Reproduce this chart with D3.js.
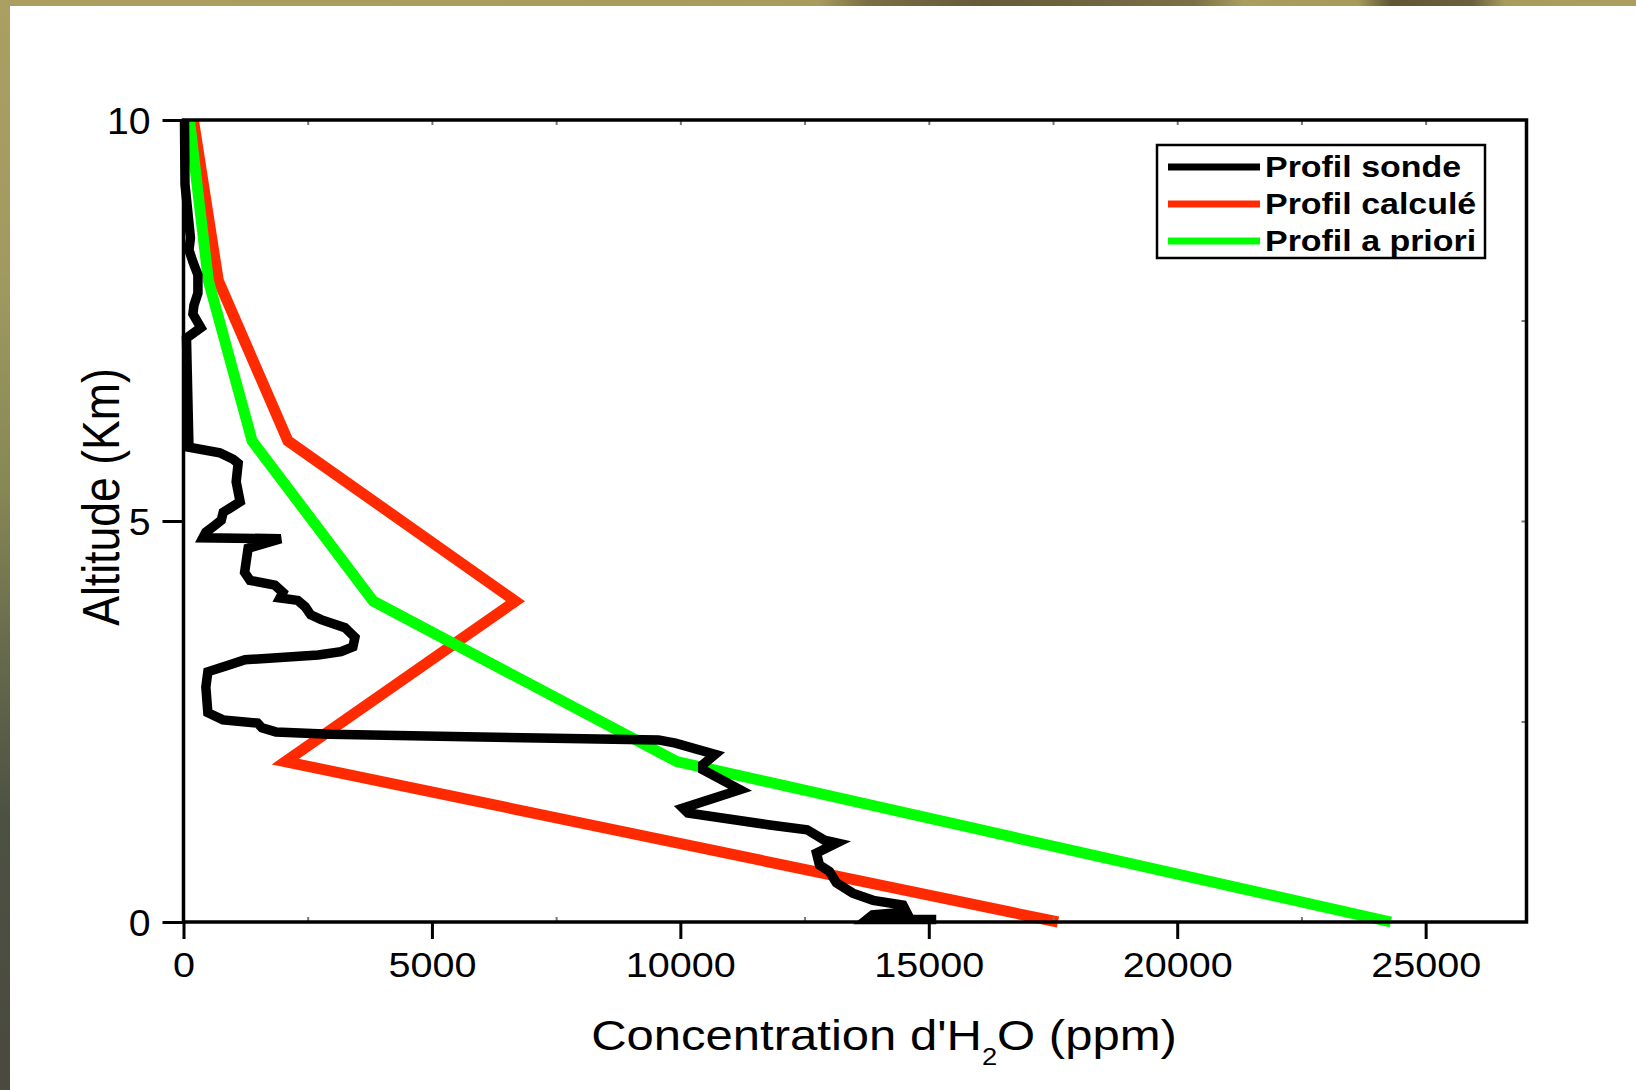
<!DOCTYPE html>
<html>
<head>
<meta charset="utf-8">
<script src="https://cdn.jsdelivr.net/npm/d3@7"></script>
<style>
  body { margin: 0; background: #fff; }
  svg { display: block; }
  text { font-family: "Liberation Sans", Arial, Helvetica, sans-serif; fill: #000; }
</style>
</head>
<body>
<script>
// ---- data ----
const levels = [0, 2, 4, 6, 8, 10]                       // km
const calcule = [17600, 2050, 6680, 2100, 700, 200]      // ppm
const apriori = [24300, 9930, 3820, 1380, 500, 120]      // ppm

const sondeAlt = [10.0, 9.2, 8.53, 8.38, 8.23, 8.07, 7.84, 7.69, 7.58, 7.41, 7.28,
  5.92, 5.85, 5.77, 5.72, 5.49, 5.24, 5.17, 5.11, 5.01, 4.95, 4.86, 4.79, 4.78,
  4.66, 4.36, 4.26, 4.2, 4.11, 4.04, 4.01, 3.93, 3.83, 3.77, 3.67, 3.55, 3.43,
  3.37, 3.33, 3.27, 3.2, 3.12, 2.93, 2.61, 2.52, 2.48, 2.42, 2.37, 2.34, 2.31,
  2.27, 2.23, 2.09, 1.96, 1.9, 1.65, 1.42, 1.36, 1.21, 1.15, 1.02, 0.985, 0.86,
  0.71, 0.63, 0.49, 0.36, 0.27, 0.21, 0.125, 0.09, 0.03, 0.03]
const sondePpm = [20, 30, 140, 110, 190, 290, 290, 210, 190, 350, 60,
  110, 730, 1000, 1100, 1060, 1140, 960, 800, 760, 640, 450, 390, 1960,
  1300, 1230, 1340, 1840, 2000, 1940, 2300, 2450, 2560, 2770, 3250, 3450, 3410,
  3170, 2710, 1240, 900, 490, 450, 490, 795, 1490, 1580, 1860, 2950, 5690,
  9560, 9900, 10700, 10450, 10450, 11200, 10050, 10150, 11800, 12550, 12900, 13150, 12740,
  12800, 13000, 13140, 13470, 13880, 14480, 14550, 13870, 13750, 15150]

const xTicks = [0, 5000, 10000, 15000, 20000, 25000]
const xMinor = [2500, 7500, 12500, 17500, 22500]
const xTopTicks = [2500, 5000, 7500, 10000, 12500, 15000, 17500, 20000, 22500, 25000]
const yTicks = [0, 5, 10]
const yRightTicks = [2.5, 5, 7.5]

const seriesNames = ['Profil sonde', 'Profil calculé', 'Profil a priori']
const seriesColors = ['#000000', '#ff2a00', '#00ff00']

// ---- frame ----
const W = 1636, H = 1090
const plot = { left: 183.5, top: 120, right: 1526.5, bottom: 922 }

const svg = d3.select('body').append('svg')
  .attr('width', W)
  .attr('height', H)

// slide background edges (olive strip top and left)
const defs = svg.append('defs')
const topGrad = defs.append('linearGradient').attr('id', 'topGrad')
  .attr('x1', 0).attr('x2', 1).attr('y1', 0).attr('y2', 0)
;[[0, '#aa9f60'], [0.5, '#a89c5c'], [0.53, '#7a6e45'], [0.6, '#655a3a'], [0.73, '#7a6f47'],
  [0.76, '#a99e5e'], [0.83, '#a69a5a'], [0.85, '#5f5636'], [0.9, '#6a603e'], [0.92, '#a89c5c'], [1, '#aa9f60']]
  .forEach(s => topGrad.append('stop').attr('offset', s[0]).attr('stop-color', s[1]))
const leftGrad = defs.append('linearGradient').attr('id', 'leftGrad')
  .attr('x1', 0).attr('x2', 0).attr('y1', 0).attr('y2', 1)
;[[0, '#ab9f63'], [0.25, '#a09a60'], [0.45, '#868755'], [0.6, '#666a4c'], [0.75, '#4d5142'], [1, '#4a4a3e']]
  .forEach(s => leftGrad.append('stop').attr('offset', s[0]).attr('stop-color', s[1]))

svg.append('rect').attr('x', 0).attr('y', 0).attr('width', W).attr('height', 6).attr('fill', 'url(#topGrad)')
svg.append('rect').attr('x', 0).attr('y', 0).attr('width', 10).attr('height', H).attr('fill', 'url(#leftGrad)')

// ---- scales ----
const x = d3.scaleLinear().domain([0, 27030]).range([plot.left, plot.right])
const y = d3.scaleLinear().domain([0, 10]).range([plot.bottom, plot.top])

function stretch(sel, k) {
  sel.each(function () {
    const len = this.getComputedTextLength()
    d3.select(this).attr('textLength', len * k).attr('lengthAdjust', 'spacingAndGlyphs')
  })
}

// ---- series ----
const line = d3.line().x(d => x(d.ppm)).y(d => y(d.alt))

const sonde = sondeAlt.map((a, i) => ({ alt: a, ppm: sondePpm[i] }))
const calc = levels.map((a, i) => ({ alt: a, ppm: calcule[i] }))
const prior = levels.map((a, i) => ({ alt: a, ppm: apriori[i] }))

svg.append('path').datum(calc)
  .attr('d', line).attr('fill', 'none')
  .attr('stroke', seriesColors[1]).attr('stroke-width', 11)
svg.append('path').datum(prior)
  .attr('d', line).attr('fill', 'none')
  .attr('stroke', seriesColors[2]).attr('stroke-width', 11)
svg.append('path').datum(sonde)
  .attr('d', line).attr('fill', 'none')
  .attr('stroke', seriesColors[0]).attr('stroke-width', 9.5)

// ---- axes ----
const gx = svg.append('g')
  .attr('transform', `translate(0,${plot.bottom})`)
  .call(d3.axisBottom(x).tickValues(xTicks).tickSize(17).tickSizeOuter(0).tickFormat(d3.format('d')))
gx.select('.domain').remove()
gx.selectAll('.tick line').attr('stroke', '#000').attr('stroke-width', 3)
gx.selectAll('.tick text')
  .attr('y', 42).attr('dy', '0.36em')
  .attr('font-size', 35)
  .call(stretch, 1.13)

const gxMinor = svg.append('g')
  .attr('transform', `translate(0,${plot.bottom})`)
  .call(d3.axisTop(x).tickValues(xMinor).tickSize(5).tickSizeOuter(0).tickFormat(''))
gxMinor.select('.domain').remove()
gxMinor.selectAll('.tick line').attr('stroke', '#777').attr('stroke-width', 2)

const gxTop = svg.append('g')
  .attr('transform', `translate(0,${plot.top})`)
  .call(d3.axisBottom(x).tickValues(xTopTicks).tickSize(5).tickSizeOuter(0).tickFormat(''))
gxTop.select('.domain').remove()
gxTop.selectAll('.tick line').attr('stroke', '#777').attr('stroke-width', 2)

const gy = svg.append('g')
  .attr('transform', `translate(${plot.left},0)`)
  .call(d3.axisLeft(y).tickValues(yTicks).tickSize(21).tickSizeOuter(0).tickFormat(d3.format('d')))
gy.select('.domain').remove()
gy.selectAll('.tick line').attr('stroke', '#000').attr('stroke-width', 3)
gy.selectAll('.tick text')
  .attr('x', -33).attr('dy', '0.36em')
  .attr('font-size', 37)
  .call(stretch, 1.06)

const gyRight = svg.append('g')
  .attr('transform', `translate(${plot.right},0)`)
  .call(d3.axisLeft(y).tickValues(yRightTicks).tickSize(5).tickSizeOuter(0).tickFormat(''))
gyRight.select('.domain').remove()
gyRight.selectAll('.tick line').attr('stroke', '#777').attr('stroke-width', 2)

// plot frame
svg.append('rect')
  .attr('x', plot.left).attr('y', plot.top)
  .attr('width', plot.right - plot.left).attr('height', plot.bottom - plot.top)
  .attr('fill', 'none').attr('stroke', '#000').attr('stroke-width', 3.5)

// ---- axis titles ----
const xTitle = svg.append('text')
  .attr('text-anchor', 'middle')
  .attr('font-size', 43)
  .attr('transform', `translate(884,1050) scale(1.14,1)`)
xTitle.append('tspan').text("Concentration d'H")
xTitle.append('tspan').attr('font-size', 24).attr('dy', 15).text('2')
xTitle.append('tspan').attr('dy', -15).text('O (ppm)')

svg.append('text')
  .attr('text-anchor', 'middle')
  .attr('font-size', 44.6)
  .attr('transform', `translate(119,497) scale(1.15,1) rotate(-90)`)
  .text('Altitude (Km)')

// ---- legend ----
const legend = svg.append('g').attr('transform', 'translate(1157,145)')
legend.append('rect')
  .attr('width', 328).attr('height', 113)
  .attr('fill', '#fff').attr('stroke', '#000').attr('stroke-width', 2.5)

const items = legend.selectAll('g.item')
  .data(seriesNames)
  .join('g')
  .attr('class', 'item')
  .attr('transform', (d, i) => `translate(0,${22 + i * 37})`)
items.append('line')
  .attr('x1', 11).attr('x2', 103)
  .attr('stroke', (d, i) => seriesColors[i])
  .attr('stroke-width', 7)
items.append('text')
  .attr('x', 108).attr('y', 10)
  .attr('font-size', 29).attr('font-weight', 'bold')
  .text(d => d)
  .call(stretch, 1.17)
</script>
</body>
</html>
